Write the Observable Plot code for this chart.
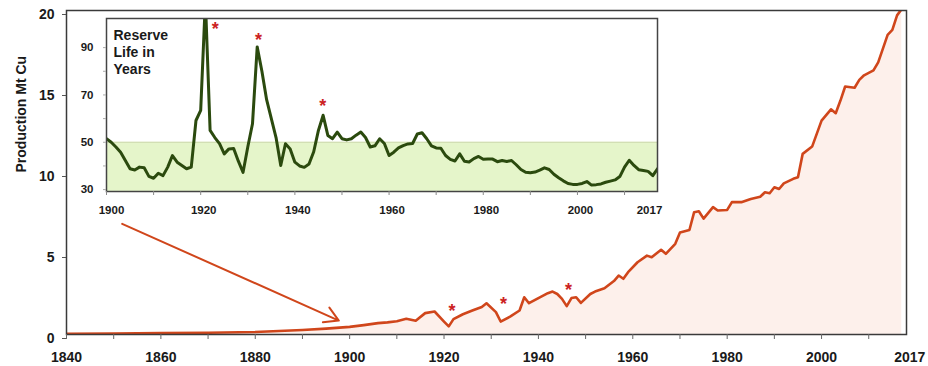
<!DOCTYPE html>
<html><head><meta charset="utf-8">
<script src="https://cdn.jsdelivr.net/npm/d3@7"></script>
<script src="https://cdn.jsdelivr.net/npm/@observablehq/plot@0.6"></script>
<style>
html,body{margin:0;padding:0;background:#fff;}
#wrap{position:relative;width:928px;height:366px;overflow:hidden;}
#wrap > svg{position:absolute;left:0;top:0;}
</style></head><body><div id="wrap"></div>
<script>
// ---- Main series: world copper mine production (Mt Cu)
const mainYears = [1840,1850,1860,1870,1880,1885,1890,1895,1900,1903,1906,1908,1910,1912,1914,1916,1918,1920,1921,1922,1924,1926,1928,1929,1931,1932,1934,1936,1937,1938,1940,1942,1943,1944,1945,1946,1947,1948,1949,1951,1952,1954,1956,1957,1958,1959,1961,1963,1964,1966,1967,1969,1970,1972,1973,1974,1975,1977,1978,1980,1981,1983,1985,1987,1988,1989,1990,1991,1992,1994,1995,1996,1998,1999,2000,2002,2003,2004,2005,2007,2008,2009,2011,2012,2014,2015,2016,2017];
const mainValues = [0.05,0.06,0.09,0.11,0.15,0.22,0.28,0.36,0.47,0.58,0.70,0.75,0.82,0.97,0.85,1.32,1.42,0.80,0.50,0.95,1.25,1.48,1.70,1.93,1.38,0.80,1.10,1.48,2.30,1.93,2.25,2.55,2.65,2.50,2.20,1.75,2.25,2.30,1.95,2.50,2.65,2.85,3.30,3.64,3.44,3.85,4.46,4.87,4.77,5.23,4.98,5.60,6.30,6.45,7.55,7.61,7.15,7.86,7.65,7.69,8.17,8.17,8.37,8.50,8.78,8.72,9.09,8.98,9.33,9.61,9.71,11.15,11.60,12.40,13.20,13.90,13.66,14.44,15.31,15.23,15.72,16.00,16.30,16.80,18.50,18.80,19.70,20.10];

// ---- Inset series: reserve life in years
const insetYears = d3.range(1900, 2018);
const insetValues = [51.5,50,48,45.8,42.3,38.8,38.3,39.5,39.2,35.6,34.8,36.9,35.9,39.5,44.4,41.6,40.2,38.8,39.5,59.2,63.5,110,55,52,49.4,45.1,47.2,47.4,42,37.3,48,57.8,90.3,80,68,60,52,40.2,49.4,47.2,41.6,40,39.4,40.8,46,55,61.4,52.9,51.5,54.3,51.5,51,51.5,53,54.3,52,48,48.5,51.5,49.5,44.4,45.8,47.6,48.6,49.3,49.5,53.5,54,51.5,48.5,47.6,47.5,44.4,42.8,42.1,45.1,42,41.7,43.1,44,42.8,42.9,42.9,41.8,42.3,41.9,42.3,40.5,38.5,37.3,37.1,37.4,38.2,39.2,38.5,36.5,35,33.7,32.6,32.2,32.2,32.6,33.4,31.9,32.1,32.4,33.1,33.6,34.1,35.5,39.5,42.4,40.2,38.4,38.1,37.7,35.9,38.8];

// ---- Ticks and labels
const mainYTicks = [0,5,10,15,20];
const mainXMinor = d3.range(1840, 2011, 10);
const mainXLabels = [1840,1860,1880,1900,1920,1940,1960,1980,2000];
const mainXEnd = [2017];
const yTitle = "Production Mt Cu";
const insetYTicks = [30,40,50,60,70,80,90];
const insetYLabels = [30,50,70,90];
const insetXMinor = d3.range(1900, 2011, 10);
const insetXLabels = [1920,1940,1960,1980,2000];
const insetTitle = "Reserve\nLife in\nYears";
const reserveThreshold = 50;

// ---- Annotations (data coordinates)
const mainStarYears = [1921.7, 1932.6, 1946.4];
const mainStarValues = [1.69, 2.14, 2.96];
const insetStarYears = [1923.1, 1932.3, 1945.9];
const insetStarValues = [99.5, 94.8, 67];
const arrowFrom = [1851.8, 6.83];
const arrowTo = [1897.7, 0.86];

const mainData = mainYears.map((year, i) => ({year, value: mainValues[i]}));
const insetData = insetYears.map((year, i) => ({year, value: insetValues[i]}));
const mainStars = mainStarYears.map((year, i) => ({year, value: mainStarValues[i]}));
const insetStars = insetStarYears.map((year, i) => ({year, value: insetStarValues[i]}));

const font = "Arial, 'Liberation Sans', sans-serif";
const orange = "#d0461b";
const starRed = "#cc2222";
const fmt = d => String(d);

const main = Plot.plot({
  width: 928, height: 366,
  marginLeft: 66, marginRight: 22, marginTop: 10, marginBottom: 32,
  x: {domain: [1840, 2018]},
  y: {domain: [0, 20]},
  style: {fontFamily: font, fontSize: "14px", fontWeight: "bold", color: "#1a1a1a", background: "white"},
  marks: [
    Plot.areaY(mainData, {x: "year", y: "value", fill: "#fdf0eb", clip: true}),
    Plot.lineY(mainData, {x: "year", y: "value", stroke: orange, strokeWidth: 2.6, clip: true}),
    Plot.frame({stroke: "#3a3a3a", strokeWidth: 1.5}),
    Plot.axisY(mainYTicks, {tickSize: 4, tickPadding: 8, dy: 4, tickFormat: fmt, label: null, stroke: "#555"}),
    Plot.axisX(mainXMinor, {tickSize: 5, tickFormat: () => "", label: null, stroke: "#666"}),
    Plot.axisX(mainXLabels, {tickSize: 0, tickPadding: 18, tickFormat: fmt, label: null}),
    Plot.axisX(mainXEnd, {tickSize: 0, tickPadding: 18, tickFormat: fmt, dx: 8, label: null}),
    Plot.text([yTitle], {frameAnchor: "left", rotate: -90, dx: -45, text: d => d, fontSize: 14, fontWeight: "bold", fill: "#1a1a1a"}),
    Plot.arrow([{a: arrowFrom, b: arrowTo}], {x1: d => d.a[0], y1: d => d.a[1], x2: d => d.b[0], y2: d => d.b[1], stroke: orange, strokeWidth: 2, headLength: 12, bend: 0}),
    Plot.text(mainStars, {x: "year", y: "value", text: () => "*", fill: starRed, fontSize: 18, fontWeight: "bold", dy: 4})
  ]
});

const inset = Plot.plot({
  width: 928, height: 366,
  marginLeft: 106, marginRight: 271, marginTop: 18, marginBottom: 175,
  x: {domain: [1900, 2017]},
  y: {domain: [29.2, 102.3]},
  style: {fontFamily: font, fontSize: "11.5px", fontWeight: "bold", color: "#1a1a1a", background: "transparent", overflow: "visible"},
  marks: [
    Plot.frame({fill: "white"}),
    Plot.rectY([reserveThreshold], {x1: insetYears[0], x2: insetYears[insetYears.length - 1], y1: 29.2, y2: d => d, fill: "#e5f5ca"}),
    Plot.ruleY([reserveThreshold], {stroke: "#cdd8ad", strokeWidth: 1}),
    Plot.lineY(insetData, {x: "year", y: "value", stroke: "#2b4a0e", strokeWidth: 3, clip: true}),
    Plot.frame({stroke: "#444", strokeWidth: 1.5}),
    Plot.axisY(insetYTicks, {tickSize: 3, tickPadding: 10, tickFormat: d => insetYLabels.includes(d) ? String(d) : "", label: null, stroke: "#aaa"}),
    Plot.axisX(insetXMinor, {tickSize: 4, tickFormat: () => "", label: null, stroke: "#888"}),
    Plot.axisX(insetXLabels, {tickSize: 0, tickPadding: 14, tickFormat: fmt, dx: 3, label: null}),
    Plot.axisX([insetYears[0]], {tickSize: 0, tickPadding: 14, tickFormat: fmt, dx: 5, label: null}),
    Plot.axisX([insetYears[insetYears.length - 1]], {tickSize: 0, tickPadding: 14, tickFormat: fmt, dx: -8, label: null}),
    Plot.text([insetTitle], {frameAnchor: "top-left", dx: 7, dy: 9.5, text: d => d, textAnchor: "start", lineAnchor: "top", lineHeight: 1.21, fontSize: 14, fontWeight: "bold", fill: "#1a1a1a"}),
    Plot.text(insetStars, {x: "year", y: "value", text: () => "*", fill: starRed, fontSize: 18, fontWeight: "bold", dy: 4})
  ]
});

const wrap = document.getElementById("wrap");
wrap.appendChild(main);
wrap.appendChild(inset);
</script></body></html>
